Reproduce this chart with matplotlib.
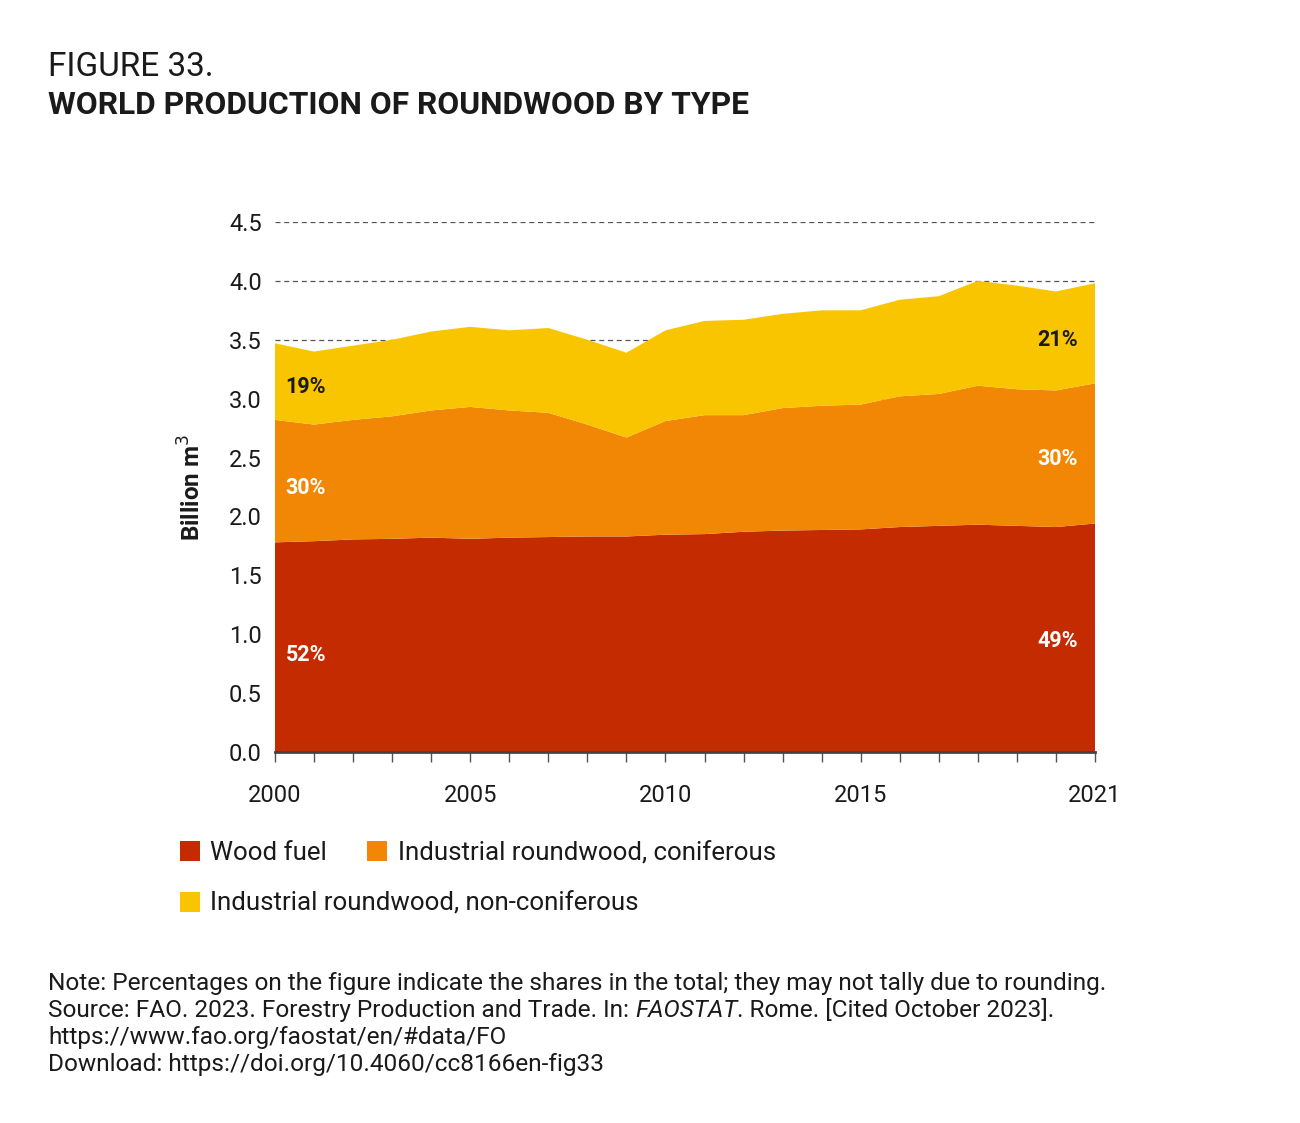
import matplotlib
matplotlib.use("Agg")
import matplotlib.pyplot as plt

# ---- data (billion m3) -----------------------------------------------------
years = list(range(2000, 2022))
wood_fuel = [1.78, 1.79, 1.805, 1.81, 1.82, 1.81, 1.82, 1.825, 1.83, 1.83, 1.845,
             1.85, 1.87, 1.88, 1.885, 1.89, 1.91, 1.92, 1.93, 1.92, 1.91, 1.94]
coniferous = [1.04, 0.99, 1.015, 1.04, 1.08, 1.12, 1.08, 1.055, 0.95, 0.84, 0.965,
              1.01, 0.99, 1.04, 1.055, 1.06, 1.11, 1.12, 1.18, 1.16, 1.16, 1.19]
non_coniferous = [0.65, 0.62, 0.63, 0.65, 0.67, 0.68, 0.68, 0.72, 0.72, 0.72, 0.77,
                  0.80, 0.81, 0.80, 0.81, 0.80, 0.82, 0.83, 0.89, 0.88, 0.84, 0.85]
series_names = ["Wood fuel", "Industrial roundwood, coniferous",
                "Industrial roundwood, non-coniferous"]
colors = ["#C42B00", "#F28705", "#F9C500"]
yticks = [0.0, 0.5, 1.0, 1.5, 2.0, 2.5, 3.0, 3.5, 4.0, 4.5]
labelled_years = [2000, 2005, 2010, 2015, 2021]
# share labels: (year, y, text, colour)
shares = [(2000, 0.82, "52%", "white"), (2000, 2.24, "30%", "white"),
          (2000, 3.10, "19%", "#1a1a1a"),
          (2021, 0.94, "49%", "white"), (2021, 2.49, "30%", "white"),
          (2021, 3.50, "21%", "#1a1a1a")]

FONT = ["Roboto", "DejaVu Sans"]
plt.rcParams["font.family"] = FONT
TXT = "#1a1a1a"
W, H = 1300, 1123

fig = plt.figure(figsize=(13, 11.23), dpi=100)
ax = fig.add_axes([275 / W, 1 - 752 / H, 820 / W, 530 / H])

polys = ax.stackplot(years, wood_fuel, coniferous, non_coniferous,
                     colors=colors, linewidth=0, zorder=2)

ax.set_xlim(2000, 2021)
ax.set_ylim(0, 4.5)
ax.set_yticks(yticks)
ax.set_yticklabels([f"{v:.1f}" for v in yticks])
ax.set_xticks(years)
ax.set_xticklabels([str(y) if y in labelled_years else "" for y in years])
ax.tick_params(axis="y", length=0, pad=9.5, labelsize=17, labelcolor=TXT)
ax.tick_params(axis="x", length=7, width=1, color="#555555", pad=16,
               labelsize=17, labelcolor=TXT)

ax.grid(axis="y", linestyle=(0, (4, 3)), color="#555555", lw=0.9, zorder=0)
ax.set_axisbelow(True)
for side in ["left", "right", "top"]:
    ax.spines[side].set_visible(False)
ax.spines["bottom"].set_color("#444444")
ax.spines["bottom"].set_linewidth(2)
ax.spines["bottom"].set_zorder(3)

ax.set_ylabel("Billion m$^3$", fontsize=17.5, fontweight="bold", color=TXT)
ax.yaxis.set_label_coords((206 - 275) / 820, 0.5)

for yr, yv, txt, col in shares:
    ha = "left" if yr == years[0] else "right"
    dx = 0.27 if yr == years[0] else -0.45
    ax.text(yr + dx, yv, txt, ha=ha, va="center", fontsize=15.5,
            fontweight="bold", color=col, zorder=4)

# ---- titles ----------------------------------------------------------------
fig.text(48 / W, 1 - 76 / H, "FIGURE 33.", fontsize=24, color=TXT,
         va="baseline", ha="left")
fig.text(48 / W, 1 - 114 / H, "WORLD PRODUCTION OF ROUNDWOOD BY TYPE",
         fontsize=22.9, fontweight="bold", color=TXT, va="baseline", ha="left")

# ---- legend ----------------------------------------------------------------
leg_kw = dict(loc="upper left", frameon=False, fontsize=18.6, handlelength=0.78,
              handleheight=0.78, handletextpad=0.4, borderpad=0,
              borderaxespad=0, labelcolor=TXT)
leg1 = fig.legend(polys[:2], series_names[:2], ncol=2, columnspacing=1.55,
                  bbox_to_anchor=(180 / W, 1 - 841 / H), **leg_kw)
leg2 = fig.legend(polys[2:], series_names[2:],
                  bbox_to_anchor=(180 / W, 1 - 892 / H), **leg_kw)

# ---- notes -----------------------------------------------------------------
nx = 48 / W
fs = 17.6
fig.text(nx, 1 - 990 / H,
         "Note: Percentages on the figure indicate the shares in the total; "
         "they may not tally due to rounding.", fontsize=fs, color=TXT,
         va="baseline")
y2 = 1 - 1017 / H
t1 = fig.text(nx, y2, "Source: FAO. 2023. Forestry Production and Trade. In: ",
              fontsize=fs, color=TXT, va="baseline")
t2 = fig.text(0, y2, "FAOSTAT", fontsize=fs, color=TXT, style="italic",
              va="baseline")
t3 = fig.text(0, y2, ". Rome. [Cited October 2023].", fontsize=fs, color=TXT,
              va="baseline")
fig.canvas.draw()
r = fig.canvas.get_renderer()
t2.set_x(t1.get_window_extent(r).x1 / fig.bbox.width)
t3.set_x(t2.get_window_extent(r).x1 / fig.bbox.width)
fig.text(nx, 1 - 1044 / H, "https://www.fao.org/faostat/en/#data/FO",
         fontsize=fs, color=TXT, va="baseline")
fig.text(nx, 1 - 1071 / H, "Download: https://doi.org/10.4060/cc8166en-fig33",
         fontsize=fs, color=TXT, va="baseline")

fig.savefig("out.png", dpi=100, facecolor="white")
